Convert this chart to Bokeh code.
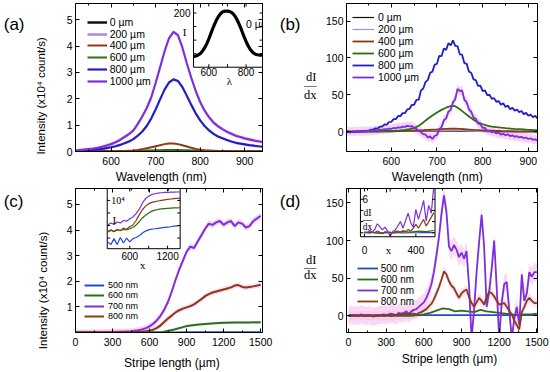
import numpy as np
from bokeh.plotting import figure
from bokeh.models import (Range1d, LinearAxis, FixedTicker, Legend, LegendItem,
                          CustomJSTickFormatter)
from bokeh.layouts import row, column
from bokeh.embed import file_html
from bokeh.resources import INLINE
from bokeh.core.properties import value

# ---------------- data ----------------
a_wl = (520, 940)
a_1000 = [0.03, 0.05, 0.07, 0.09, 0.11, 0.14, 0.18, 0.23, 0.28, 0.35,
          0.44, 0.55, 0.66, 0.8, 1.05, 1.33, 1.65, 2.05, 2.6, 3.2,
          3.8, 4.3, 4.54, 4.42, 3.95, 3.35, 2.8, 2.3, 1.88, 1.55,
          1.3, 1.1, 0.96, 0.85, 0.75, 0.67, 0.6, 0.55, 0.5, 0.46,
          0.42, 0.39, 0.36]
a_800 = [0.01, 0.02, 0.03, 0.05, 0.06, 0.08, 0.1, 0.13, 0.16, 0.2,
         0.25, 0.31, 0.38, 0.47, 0.6, 0.76, 0.97, 1.25, 1.6, 1.98,
         2.35, 2.62, 2.74, 2.68, 2.45, 2.12, 1.77, 1.45, 1.18, 0.97,
         0.8, 0.67, 0.57, 0.5, 0.44, 0.38, 0.33, 0.3, 0.27, 0.24,
         0.22, 0.2, 0.18]
a_400 = [0.01, 0.01, 0.01, 0.01, 0.01, 0.01, 0.01, 0.02, 0.02, 0.02, 0.02, 0.02,
         0.03, 0.04, 0.06, 0.09, 0.12, 0.16, 0.2, 0.24, 0.28, 0.3,
         0.3, 0.28, 0.24, 0.19, 0.14, 0.1, 0.07, 0.05, 0.04, 0.03,
         0.02, 0.02, 0.02, 0.01, 0.01, 0.01, 0.01, 0.01, 0.01, 0.01, 0.01]
a_600 = [0.01, 0.01, 0.01, 0.01, 0.01, 0.01, 0.01, 0.01, 0.01, 0.01, 0.01, 0.01,
         0.02, 0.02, 0.03, 0.03, 0.04, 0.04, 0.05, 0.05, 0.06, 0.06, 0.06,
         0.06, 0.05, 0.05, 0.04, 0.04, 0.03, 0.03, 0.02, 0.02, 0.02,
         0.01, 0.01, 0.01, 0.01, 0.01, 0.01, 0.01, 0.01, 0.01, 0.01]
a_low_wl = [520, 580, 640, 700, 760, 820, 880, 940]
a_0 = [0.0, 0.0, 0.0, 0.01, 0.01, 0.0, 0.0, 0.0]
a_200 = [0.01, 0.01, 0.01, 0.02, 0.02, 0.01, 0.01, 0.01]
ai_wl = (520, 890)
ai_0 = [40, 41, 44, 48, 54, 63, 74, 88, 104, 122, 140, 157, 172, 185, 195, 202, 206, 207, 207, 206,
        203, 197, 189, 177, 163, 147, 129, 111, 95, 80, 68, 59, 52, 48, 46, 45, 45, 45]

b_wl = (500, 920)
b_800 = [-1.0, -0.5, -1.2, 0.0, -0.4, 0.6, 0.0, 1.0, 0.2, 1.5,
         1.0, 2.6, 2.4, 4.5, 4.2, 6.8, 6.9, 9.8, 9.6, 12.8,
         13.2, 16.9, 17.0, 21.2, 21.0, 25.1, 25.0, 30.2, 31.0, 36.4,
         36.5, 43.0, 43.4, 56.0, 58.5, 67.5, 70.0, 80.0, 81.5, 91.0,
         92.0, 103.0, 102.5, 113.0, 111.0, 120.0, 117.0, 124.0, 116.5, 116.0,
         105.0, 104.5, 93.0, 92.0, 81.5, 80.0, 71.0, 70.0, 62.0, 62.5,
         55.0, 56.0, 49.5, 50.0, 44.5, 45.5, 40.5, 41.5, 36.5, 38.5,
         33.5, 35.5, 30.5, 32.5, 28.5, 30.0, 26.5, 28.0, 23.5, 25.5,
         21.5, 23.0, 19.5, 21.5, 18.0]
b_1000 = [0.0, 0.5, -0.3, 0.4, 0.0, 0.6, 0.2, 0.8, 0.4, 1.0,
          0.8, 1.4, 1.2, 1.9, 1.7, 2.6, 2.3, 3.3, 3.0, 4.0,
          3.8, 4.9, 4.6, 5.8, 5.5, 6.8, 6.4, 7.8, 7.2, 7.5,
          5.2, 3.8, 1.0, -0.5, -3.5, -4.0, -8.0, -6.5, -10.0, -6.0,
          -4.5, 3.0, 6.0, 15.5, 18.0, 27.0, 29.5, 40.0, 44.0, 58.0,
          55.0, 56.0, 43.0, 40.0, 30.0, 27.0, 19.0, 17.5, 11.0, 10.0,
          5.0, 5.0, 1.0, 1.5, -1.0, 0.0, -2.5, -1.5, -4.0, -3.0,
          -5.0, -3.5, -6.0, -5.0, -7.0, -6.0, -8.0, -7.0, -9.0, -8.0,
          -10.0, -9.0, -11.0, -10.5, -12.0]
b_600 = [0.0, 0.0, 0.1, 0.1, 0.2, 0.3, 0.4, 0.5, 0.7, 0.9,
         1.1, 1.4, 1.8, 2.4, 3.3, 4.8, 8.0, 12.5, 17.5, 22.0,
         26.0, 29.5, 32.5, 34.8, 34.5, 30.5, 25.5, 20.5, 16.0, 12.5,
         10.0, 8.2, 6.9, 6.0, 5.3, 4.7, 4.2, 3.7, 3.3, 2.9,
         2.5, 2.2, 2.0]
b_400 = [0.0, 0.0, 0.1, 0.1, 0.1, 0.2, 0.2, 0.3, 0.3, 0.4,
         0.5, 0.7, 0.8, 1.0, 1.3, 1.5, 1.8, 2.1, 2.5, 2.8,
         3.1, 3.5, 3.8, 4.0, 3.9, 3.6, 3.2, 2.8, 2.4, 2.1,
         1.8, 1.5, 1.3, 1.1, 0.9, 0.8, 0.6, 0.5, 0.4, 0.4,
         0.3, 0.2, 0.2]
b_low_wl = [502, 560, 620, 680, 740, 800, 860, 920]
b_0 = [0.0, 0.0, 0.3, 0.5, 0.5, 0.2, 0.0, 0.0]
b_200 = [0.0, 0.2, 0.5, 1.0, 1.5, 0.0, -1.0, -1.5]

c_700 = [0.0, 0.0, 0.0, 0.0, 0.0, 0.01, 0.01, 0.01, 0.01, 0.02,
         0.02, 0.02, 0.03, 0.03, 0.04, 0.05, 0.07, 0.09, 0.12, 0.17,
         0.24, 0.34, 0.48, 0.66, 0.9, 1.2, 1.6, 2.05, 2.45, 2.8,
         3.15, 3.35, 3.3, 3.55, 3.8, 4.05, 4.25, 4.2, 4.3, 4.35,
         4.2, 4.3, 4.35, 4.15, 4.3, 4.25, 4.1, 4.15, 4.35, 4.45, 4.55]
c_800 = [0.0, 0.0, 0.0, 0.0, 0.0, 0.0, 0.0, 0.0, 0.0, 0.01,
         0.01, 0.01, 0.01, 0.01, 0.01, 0.01, 0.01, 0.02, 0.03, 0.05,
         0.07, 0.11, 0.18, 0.28, 0.42, 0.55, 0.66, 0.78, 0.87, 0.93,
         0.98, 1.03, 1.1, 1.2, 1.3, 1.42, 1.5, 1.56, 1.6, 1.64,
         1.68, 1.72, 1.76, 1.83, 1.85, 1.78, 1.76, 1.78, 1.8, 1.83, 1.86]
c_600 = [0.0, 0.0, 0.0, 0.0, 0.0, 0.0, 0.0, 0.01, 0.12, 0.25, 0.31, 0.35, 0.38, 0.39, 0.39, 0.4]
c_500 = [0.0, 0.0, 0.0, 0.0, 0.0, 0.0, 0.0, 0.0, 0.0, 0.01, 0.01, 0.01, 0.01, 0.01, 0.01, 0.01]
ci_700 = [110, 160, 120, 190, 160, 250, 220, 340, 480, 900, 2000, 6000, 14000, 22000, 30000, 34000,
          38000, 41000, 43000, 44000, 45000, 46000, 47000, 48000]
ci_800 = [35, 45, 32, 50, 40, 62, 50, 80, 110, 250, 700, 1800, 3500, 5500, 7000, 8000, 9000, 10000,
          11000, 12000, 13000, 14000, 14500, 15000]
ci_600 = [30, 40, 34, 44, 38, 48, 44, 55, 70, 110, 200, 400, 650, 1000, 1400, 1700, 1900, 2100, 2200,
          2300, 2400, 2500, 2550, 2600]
ci_500 = [5, 3, 9, 3, 11, 4, 10, 5, 9, 11, 15, 25, 36, 45, 52, 55, 60, 65, 70, 75, 80, 90, 95, 100]

d_700 = [0, 1, 0, 1, 0, 2, 1, 0, 1, 0,
         -1, 0, 1, 1, 2, 1, 2, 3, 2, 1,
         4, 3, 4, 6, 3, 6, 8, 9, 12, 15,
         18, 24, 32, 42, 58, 80, 104, 135, 160, 138,
         92, 86, 94, 88, 78, 84, 76, 86, 40, -30,
         8, 58, 98, 134, 92, 12, 32, 62, 100, 38,
         -30, 18, 42, 45, 8, -30, -4, 12, -12, 55,
         20, 30, 58, 52, 58, 58]
d_800 = [0, 0, 1, 0, 0, 1, 0, 0, 1, 0,
         0, 1, 0, 1, 0, 1, 1, 0, 1, 1,
         2, 1, 2, 3, 2, 3, 3, 2, 4, 5,
         7, 9, 13, 16, 22, 30, 38, 48, 59, 55,
         46, 40, 37, 30, 24, 30, 33, 35, 25, 17,
         12, 18, 24, 20, 15, 25, 32, 30, 26, 20,
         15, 16, 17, 12, 7, 2, -6, -12, -18, 5,
         12, 20, 24, 20, 17, 17]
d_600 = [0, 0, 0, 0, 0, 0, 0, 0, 0, 0, 0, 1, 2, 4, 7, 10, 9, 6, 7, 6, 5, 8, 6, 5, 4, 3, 2, 1, 2, 2, 3]
d_500 = [1, 1, 1, 1, 1, 1, 1, 1, 1, 1, 1, 1, 1, 1, 1, 1, 1, 1, 1, 1, 1, 1, 1, 1, 1, 1, 1, 1, 1, 1, 1]
di_700 = [0.2, 0.0, 0.4, 0.1, 0.6, 1.6, 1.1, 0.5, 1.0, 0.3, -0.6, 0.2, 0.5, 1.2, 2.0, 0.8, 2.2, 3.5,
          1.8, 1.0, 4.2, 2.4, 4.0, 5.8, 2.1, 4.9, 3.5, 8.5]
di_800 = [0.0, 0.1, -0.1, 0.2, 0.0, 0.3, 0.1, -0.2, 0.2, 0.0, 0.1, -0.1, 0.2, 0.3, 0.1, 0.4, 0.2, 0.6,
          0.3, 0.8, 1.5, 0.8, 1.6, 2.4, 1.2, 2.0, 2.8, 3.6]
di_600 = [0.0, 0.1, -0.1, 0.1, 0.0, 0.2, 0.1, 0.3, 0.2, 0.4]
di_500 = [0.0, 0.0, -0.05, 0.0, 0.0, -0.05, 0.0, 0.0, 0.05, 0.0]

len_labels = ["0 µm", "200 µm", "400 µm", "600 µm", "800 µm", "1000 µm"]
wl_labels = ["500 nm", "600 nm", "700 nm", "800 nm"]

# ---------------- styling ----------------
FONT = "Liberation Sans"
SERIF = "Liberation Serif"
BLACK, LAV, BROWN, GREEN, BLUE, PURPLE = "#111111", "#a98be6", "#8b3a12", "#2e6e14", "#1f1fc6", "#7b30dc"
BLUE2 = "#2848d4"
PINK = "#f7bfee"


def grid(rng, vals):
    return np.linspace(rng[0], rng[1], len(vals))


GEO = {
    'a': dict(w=275, h=186, bl=70, br=13, bt=3, bb=34, xr=(520, 940), yr=(0, 5.62), pl=0, pt=0),
    'b': dict(w=275, h=186, bl=71, br=13, bt=3, bb=34, xr=(502, 920), yr=(-27, 174), pl=275, pt=0),
    'c': dict(w=275, h=186, bl=70, br=13, bt=2, bb=40, xr=(0, 1515), yr=(0, 5.62), pl=0, pt=186),
    'd': dict(w=275, h=186, bl=71, br=13, bt=2, bb=40, xr=(-16, 1505), yr=(-22, 169), pl=275, pt=186),
}
for g in GEO.values():
    g['fw'] = g['w'] - g['bl'] - g['br']
    g['fh'] = g['h'] - g['bt'] - g['bb']
    g['fl'] = g['pl'] + g['bl']
    g['fb'] = g['pt'] + g['bt'] + g['fh']


def xdata(key, px):
    g = GEO[key]
    return g['xr'][0] + (px - g['fl']) / g['fw'] * (g['xr'][1] - g['xr'][0])


def ydata(key, py):
    g = GEO[key]
    return g['yr'][0] + (g['fb'] - py) / g['fh'] * (g['yr'][1] - g['yr'][0])


def make_fig(key, xt, xm, yt, ym):
    g = GEO[key]
    p = figure(width=g['w'], height=g['h'], x_range=Range1d(*g['xr']), y_range=Range1d(*g['yr']),
               output_backend="svg", toolbar_location=None,
               min_border_left=g['bl'], min_border_right=g['br'],
               min_border_top=g['bt'], min_border_bottom=g['bb'],
               background_fill_color="white", border_fill_color="white")
    p.xgrid.visible = False
    p.ygrid.visible = False
    p.outline_line_color = "black"
    p.outline_line_alpha = 1.0
    p.outline_line_width = 1
    bx, ly = p.below[0], p.left[0]
    bx.ticker = FixedTicker(ticks=xt, minor_ticks=xm)
    ly.ticker = FixedTicker(ticks=yt, minor_ticks=ym)
    top = LinearAxis(ticker=FixedTicker(ticks=xt, minor_ticks=xm))
    rt = LinearAxis(ticker=FixedTicker(ticks=yt, minor_ticks=ym))
    p.add_layout(top, "above")
    p.add_layout(rt, "right")
    for ax in (bx, ly, top, rt):
        ax.axis_label = None
        ax.axis_label_standoff = 0
        ax.axis_label_text_font_size = "0px"
        ax.major_tick_in = 4
        ax.major_tick_out = 0
        ax.minor_tick_in = 2
        ax.minor_tick_out = 0
        ax.axis_line_color = "black"
        ax.major_tick_line_color = "black"
        ax.minor_tick_line_color = "black"
        ax.major_label_text_font = FONT
        ax.major_label_text_font_size = "10.5px"
        ax.major_label_text_color = "black"
        ax.major_label_standoff = 4
    bx.major_label_standoff = 5
    ly.major_label_standoff = 3
    for ax in (top, rt):
        ax.formatter = CustomJSTickFormatter(code="return ''")
        ax.major_label_text_font_size = "0px"
        ax.major_label_standoff = 0
    return p


def side_text(p, key, side, refs, texts, size, font=FONT, standoff=0, orient="horizontal"):
    """Texts outside the frame, set as tick labels of an extra axis with no line or ticks."""
    if side == "left":
        vals = [ydata(key, r) for r in refs]
    else:
        vals = [xdata(key, r) for r in refs]
    fmt = CustomJSTickFormatter(args=dict(vals=vals, labels=texts), code="""
        let best = 0, d = 1e300;
        for (let k = 0; k < vals.length; k++) {
            const e = Math.abs(vals[k] - tick);
            if (e < d) { d = e; best = k; }
        }
        return labels[best];
    """)
    ax = LinearAxis(ticker=FixedTicker(ticks=vals, minor_ticks=[]), formatter=fmt,
                    axis_line_color=None, major_tick_line_color=None, minor_tick_line_color=None,
                    major_tick_in=0, major_tick_out=0, minor_tick_in=0, minor_tick_out=0,
                    major_label_standoff=standoff, major_label_text_font=font,
                    major_label_text_font_size=size, major_label_orientation=orient,
                    major_label_text_color="black", axis_label=None)
    p.add_layout(ax, side)


def add_legend(p, key, items, gx, cy0, pitch, gw, standoff, fsize, rowh=12):
    """One single-entry legend per row, so the row pitch can follow the reference."""
    g = GEO[key]
    x = gx - g['fl']
    for k, (t, r) in enumerate(items):
        cy = cy0 + k * pitch
        y = g['fb'] - (cy + rowh / 2)
        leg = Legend(items=[LegendItem(label=t, renderers=[r])],
                     location=(x, y), background_fill_alpha=0, border_line_alpha=0,
                     padding=0, spacing=0, margin=0, glyph_width=gw, glyph_height=rowh,
                     label_height=rowh, label_standoff=standoff,
                     label_text_font=FONT, label_text_font_size=fsize, label_text_color="black")
        p.add_layout(leg)


def inset(p, key, xs, ys, xt, yt):
    g = GEO[key]
    sub = p.subplot(x_source=Range1d(*xs), y_source=Range1d(*ys),
                    x_target=Range1d(*xt), y_target=Range1d(*yt))
    pw = (xt[1] - xt[0]) / (g['xr'][1] - g['xr'][0]) * g['fw']
    ph = (yt[1] - yt[0]) / (g['yr'][1] - g['yr'][0]) * g['fh']
    ux = (xs[1] - xs[0]) / pw
    uy = (ys[1] - ys[0]) / ph
    sub.quad(left=[xs[0]], right=[xs[1]], bottom=[ys[0]], top=[ys[1]],
             fill_color="white", line_color="black", line_width=1)
    return sub, ux, uy


def inset_ticks(sub, xs, ys, ux, uy, xticks, yticks, L=3):
    n, m = len(xticks), len(yticks)
    kw = dict(line_color="black", line_width=1)
    sub.segment(x0=xticks, y0=[ys[0]] * n, x1=xticks, y1=[ys[0] + L * uy] * n, **kw)
    sub.segment(x0=xticks, y0=[ys[1]] * n, x1=xticks, y1=[ys[1] - L * uy] * n, **kw)
    sub.segment(x0=[xs[0]] * m, y0=yticks, x1=[xs[0] + L * ux] * m, y1=yticks, **kw)
    sub.segment(x0=[xs[1]] * m, y0=yticks, x1=[xs[1] - L * ux] * m, y1=yticks, **kw)


def itext(sub, x, y, t, size="10px", font=FONT, align="center", base="middle", xo=0, yo=0):
    sub.text(x=x, y=y, text=t, text_font=value(font), text_font_size=size, text_align=align,
             text_baseline=base, x_offset=xo, y_offset=yo, text_color="black")


YLAB = "Intensity (x10\u2074 count/s)"

# ---------------- panel (a) ----------------
pa = make_fig('a', [600, 700, 800, 900], [550, 650, 750, 850], [0, 1, 2, 3, 4, 5], [])
x = grid(a_wl, a_1000)
pa.varea(x=x, y1=np.array(a_1000) - 0.07, y2=np.array(a_1000) + 0.07, fill_color=PINK, fill_alpha=0.7)
pa.varea(x=x, y1=np.array(a_800) - 0.06, y2=np.array(a_800) + 0.06, fill_color=PINK, fill_alpha=0.5)
ra0 = pa.line(a_low_wl, a_0, line_color=BLACK, line_width=2.5)
ra2 = pa.line(a_low_wl, a_200, line_color=LAV, line_width=2.5)
ra6 = pa.line(grid(a_wl, a_600), a_600, line_color=GREEN, line_width=2)
ra4 = pa.line(grid(a_wl, a_400), a_400, line_color=BROWN, line_width=2)
ra8 = pa.line(x, a_800, line_color=BLUE, line_width=2.2)
ra10 = pa.line(x, a_1000, line_color=PURPLE, line_width=2.2)
add_legend(pa, 'a', list(zip(len_labels, [ra0, ra2, ra4, ra6, ra8, ra10])),
           81.7, 22.7, 11.86, 20, 3, "10.5px")
AXS, AYS = (518, 888), (0, 235)
sa, ux, uy = inset(pa, 'a', AXS, AYS, (785, 940), (3.2, 5.62))
sa.line(grid(ai_wl, ai_0), ai_0, line_color="black", line_width=3.2)
inset_ticks(sa, AXS, AYS, ux, uy, [600, 700, 800], [50, 100, 150, 200])
itext(sa, [600, 800], [AYS[0], AYS[0]], ["600", "800"], base="top", yo=1)
itext(sa, [AXS[0]], [200], ["200"], align="right", xo=-3)
itext(sa, [AXS[0]], [131], ["I"], size="11px", font=SERIF, xo=-9)
itext(sa, [710], [AYS[0]], ["\u03bb"], size="11px", font=SERIF, yo=14)
itext(sa, [800], [158], ["0 µm"], size="10.5px", align="left")
side_text(pa, 'a', "left", [96], [YLAB], "11.5px", standoff=16, orient="parallel")
side_text(pa, 'a', "left", [24.5], ["(a)"], "17px", standoff=8)
side_text(pa, 'a', "below", [158], ["Wavelength (nm)"], "12px", standoff=2)

# ---------------- panel (b) ----------------
pb = make_fig('b', [600, 700, 800, 900], [550, 650, 750, 850], [0, 50, 100, 150], [])
x5 = grid(b_wl, b_800)
pb.varea(x=x5, y1=np.array(b_1000) - 6, y2=np.array(b_1000) + 6, fill_color=PINK, fill_alpha=0.7)
rb0 = pb.line(b_low_wl, b_0, line_color=BLACK, line_width=1.2)
rb2 = pb.line(b_low_wl, b_200, line_color=LAV, line_width=1.2)
rb4 = pb.line(grid(b_wl, b_400), b_400, line_color=BROWN, line_width=1.8)
rb6 = pb.line(grid(b_wl, b_600), b_600, line_color=GREEN, line_width=1.8)
rb8 = pb.line(x5, b_800, line_color=BLUE, line_width=1.8)
rb10 = pb.line(x5, b_1000, line_color=PURPLE, line_width=1.8)
add_legend(pb, 'b', list(zip(len_labels, [rb0, rb2, rb4, rb6, rb8, rb10])),
           352, 17.7, 12.06, 22, 4, "10.5px")
side_text(pb, 'b', "left", [77.3, 85.5, 95], ["dI", "\u2014", "dx"], "12.5px", font=SERIF, standoff=6)
side_text(pb, 'b', "left", [24.5], ["(b)"], "17px", standoff=0)
side_text(pb, 'b', "below", [436.7], ["Wavelength (nm)"], "12px", standoff=2)

# ---------------- panel (c) ----------------
pc = make_fig('c', [0, 300, 600, 900, 1200, 1500], [150, 450, 750, 1050, 1350],
              [1, 2, 3, 4, 5], [])
xc = grid((0, 1500), c_700)
pc.varea(x=xc, y1=np.array(c_700) - 0.12, y2=np.array(c_700) + 0.12, fill_color=PINK, fill_alpha=0.7)
pc.varea(x=xc, y1=np.array(c_800) - 0.1, y2=np.array(c_800) + 0.1, fill_color=PINK, fill_alpha=0.6)
xc2 = grid((0, 1500), c_600)
pc.varea(x=xc2, y1=np.array(c_600) - 0.05, y2=np.array(c_600) + 0.05, fill_color="#c9f1f4", fill_alpha=0.7)
rc5 = pc.line(xc2, c_500, line_color=BLUE2, line_width=2)
rc6 = pc.line(xc2, c_600, line_color=GREEN, line_width=2)
rc7 = pc.line(xc, c_700, line_color=PURPLE, line_width=2)
rc8 = pc.line(xc, c_800, line_color=BROWN, line_width=2)
add_legend(pc, 'c', list(zip(wl_labels, [rc5, rc6, rc7, rc8])),
           79, 284.75, 10.5, 20, 4, "9px", rowh=10)
CXS, CYS = (242, 1400), (0.15, 4.95)
sc, ux, uy = inset(pc, 'c', CXS, CYS, (257, 848), (3.27, 5.62))
xci = grid((250, 1400), ci_700)
sc.line(xci, np.log10(ci_500), line_color=BLUE2, line_width=1.2)
sc.line(xci, np.log10(ci_600), line_color=GREEN, line_width=1.2)
sc.line(xci, np.log10(ci_800), line_color=BROWN, line_width=1.2)
sc.line(xci, np.log10(ci_700), line_color=PURPLE, line_width=1.2)
inset_ticks(sc, CXS, CYS, ux, uy, [600, 900, 1200], [1, 2, 3, 4])
itext(sc, [600, 1200], [CYS[0], CYS[0]], ["600", "1200"], base="top", yo=3)
itext(sc, [CXS[0]], [4], ["10\u2074"], size="10px", font=SERIF, align="left", xo=4)
itext(sc, [CXS[0]], [2.46], ["I"], size="11px", font=SERIF, xo=7)
itext(sc, [805], [CYS[0]], ["x"], size="11px", font=SERIF, yo=16)
side_text(pc, 'c', "left", [290], [YLAB], "11.5px", standoff=15, orient="parallel")
side_text(pc, 'c', "left", [201], ["(c)"], "17px", standoff=10)
side_text(pc, 'c', "below", [169], ["Stripe length (µm)"], "12px", standoff=7)

# ---------------- panel (d) ----------------
pd_ = make_fig('d', [0, 300, 600, 900, 1200, 1500], [150, 450, 750, 1050, 1350],
               [0, 50, 100, 150], [])
xd = grid((0, 1500), d_700)
pd_.varea(x=xd, y1=np.array(d_700) - 12, y2=np.array(d_700) + 12, fill_color=PINK, fill_alpha=0.6)
pd_.varea(x=xd, y1=np.array(d_800) - 6, y2=np.array(d_800) + 6, fill_color=PINK, fill_alpha=0.5)
xd2 = grid((0, 1500), d_600)
rd5 = pd_.line(xd2, d_500, line_color=BLUE2, line_width=1.8)
rd6 = pd_.line(xd2, d_600, line_color=GREEN, line_width=1.8)
rd7 = pd_.line(xd, d_700, line_color=PURPLE, line_width=1.8)
rd8 = pd_.line(xd, d_800, line_color=BROWN, line_width=1.8)
add_legend(pd_, 'd', list(zip(wl_labels, [rd5, rd6, rd7, rd8])),
           356.7, 268, 11.1, 21, 3, "10px")
DXS, DYS = (-31, 549), (-0.72, 7.93)
sd, ux, uy = inset(pd_, 'd', DXS, DYS, (95, 689), (105, 169))
xdi = grid((0, 540), di_700)
xdi2 = grid((0, 540), di_600)
sd.line(xdi2, di_500, line_color=BLUE2, line_width=1.2)
sd.line(xdi2, di_600, line_color=GREEN, line_width=1.2)
sd.line(xdi, di_800, line_color=BROWN, line_width=1.2)
sd.line(xdi, di_700, line_color=PURPLE, line_width=1.2)
inset_ticks(sd, DXS, DYS, ux, uy, [0, 200, 400], [0, 2, 4, 6])
itext(sd, [0, 400], [DYS[0], DYS[0]], ["0", "400"], yo=13)
itext(sd, [188], [DYS[0]], ["x"], size="11px", font=SERIF, yo=13)
itext(sd, [DXS[0]], [6], ["6"], size="10px", align="left", xo=2)
itext(sd, [DXS[0]], [3.6], ["dI"], size="9.5px", font=SERIF, xo=7)
itext(sd, [DXS[0]], [2.4], ["\u2014"], size="10px", font=SERIF, xo=7)
itext(sd, [DXS[0]], [0.95], ["dx"], size="9.5px", font=SERIF, xo=7)
side_text(pd_, 'd', "left", [259.3, 266.8, 274.3], ["dI", "\u2014", "dx"], "12.5px", font=SERIF, standoff=6)
side_text(pd_, 'd', "left", [201], ["(d)"], "17px", standoff=0)
side_text(pd_, 'd', "below", [449], ["Stripe length (µm)"], "12px", standoff=3)

layout = column(row(pa, pb), row(pc, pd_))
open("out.html", "w").write(file_html(layout, INLINE, title="chart"))
